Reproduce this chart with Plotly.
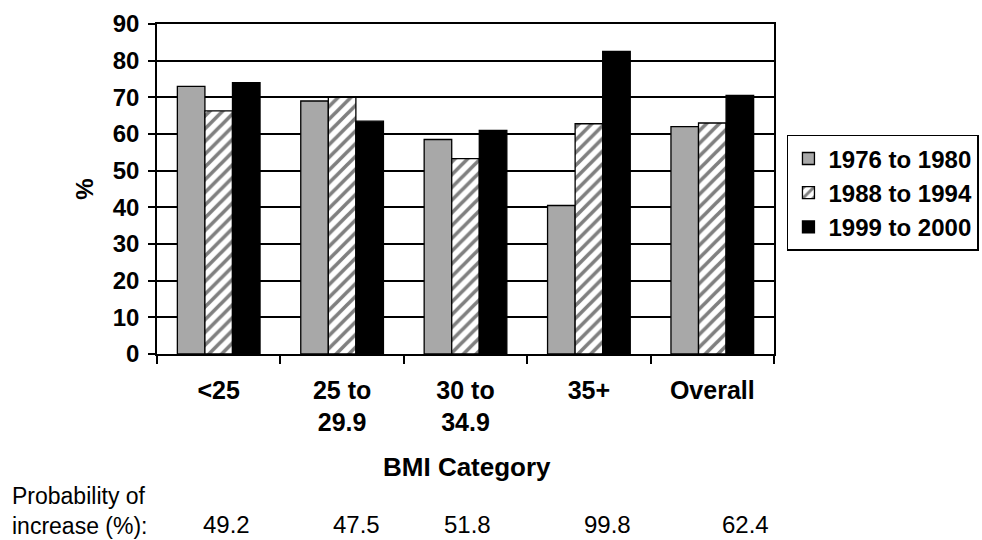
import plotly.graph_objects as go

categories = ["<25", "25 to<br>29.9", "30 to<br>34.9", "35+", "Overall"]
series_names = ["1976 to 1980", "1988 to 1994", "1999 to 2000"]
vals_1976 = [73, 69, 58.5, 40.5, 62]
vals_1988 = [66.3, 70, 53.3, 62.8, 63]
vals_1999 = [74, 63.5, 61, 82.5, 70.5]
y_ticks = [0, 10, 20, 30, 40, 50, 60, 70, 80, 90]
prob_increase = ["49.2", "47.5", "51.8", "99.8", "62.4"]

FONT = "Arial, Liberation Sans, sans-serif"
W, H = 982, 540
L, R, T, B = 157, 208, 24, 186

fig = go.Figure()
fig.add_trace(go.Bar(x=categories, y=vals_1976, name=series_names[0],
                     marker=dict(color="#a8a8a8", line=dict(color="black", width=1.3))))
fig.add_trace(go.Bar(x=categories, y=vals_1988, name=series_names[1],
                     marker=dict(color="white", line=dict(color="black", width=1.3),
                                 pattern=dict(shape="/", fgcolor="black", bgcolor="white",
                                              size=9, solidity=0.4))))
fig.add_trace(go.Bar(x=categories, y=vals_1999, name=series_names[2],
                     marker=dict(color="black", line=dict(color="black", width=1.3))))

fig.update_layout(
    width=W, height=H,
    margin=dict(l=L, r=R, t=T, b=B, autoexpand=False),
    paper_bgcolor="white", plot_bgcolor="white",
    barmode="group", bargap=0.33, bargroupgap=0,
    font=dict(family=FONT, color="black", size=22),
    legend=dict(x=1.021, y=0.664, xanchor="left", yanchor="top",
                bordercolor="black", borderwidth=1.5, bgcolor="white",
                font=dict(size=24, weight="bold"), tracegroupgap=4,
                itemwidth=30),
    xaxis=dict(showline=True, linecolor="black", linewidth=1.5, mirror=True,
               ticks="outside", tickson="boundaries", ticklen=8, tickcolor="black",
               tickwidth=1.5, tickfont=dict(size=25, weight="bold"),
               ticklabelstandoff=13, showgrid=False, automargin=False),
    yaxis=dict(range=[0, 90], tickvals=y_ticks, showline=True, linecolor="black",
               linewidth=1.5, mirror=True, ticks="outside", ticklen=7, tickcolor="black",
               tickwidth=1.5, showgrid=True, gridcolor="black", gridwidth=1.5,
               tickfont=dict(size=24, weight="bold"), ticklabelstandoff=4,
               title=dict(text="%", font=dict(size=24, weight="bold"), standoff=12),
               zeroline=False, automargin=False),
)

def px_to_paper_x(px):
    return (px - L) / (W - L - R)

def py_to_paper_y(py):
    return (H - B - py) / (H - T - B)

fig.add_annotation(text="<b>BMI Category</b>", x=px_to_paper_x(467), y=py_to_paper_y(467),
                   xref="paper", yref="paper", showarrow=False, font=dict(size=26),
                   xanchor="center", yanchor="middle")
fig.add_annotation(text="Probability of<br>increase (%):", x=px_to_paper_x(10), y=py_to_paper_y(511),
                   xref="paper", yref="paper", showarrow=False, font=dict(size=23),
                   xanchor="left", yanchor="middle", align="left")
prob_px = [226, 356, 467, 607, 745]
for v, p in zip(prob_increase, prob_px):
    fig.add_annotation(text=v, x=px_to_paper_x(p), y=py_to_paper_y(524),
                       xref="paper", yref="paper", showarrow=False, font=dict(size=24),
                       xanchor="center", yanchor="middle")

fig.write_html("out.html", config={"displayModeBar": False},
               post_script="document.body.style.margin='0';document.body.style.overflow='hidden';")
